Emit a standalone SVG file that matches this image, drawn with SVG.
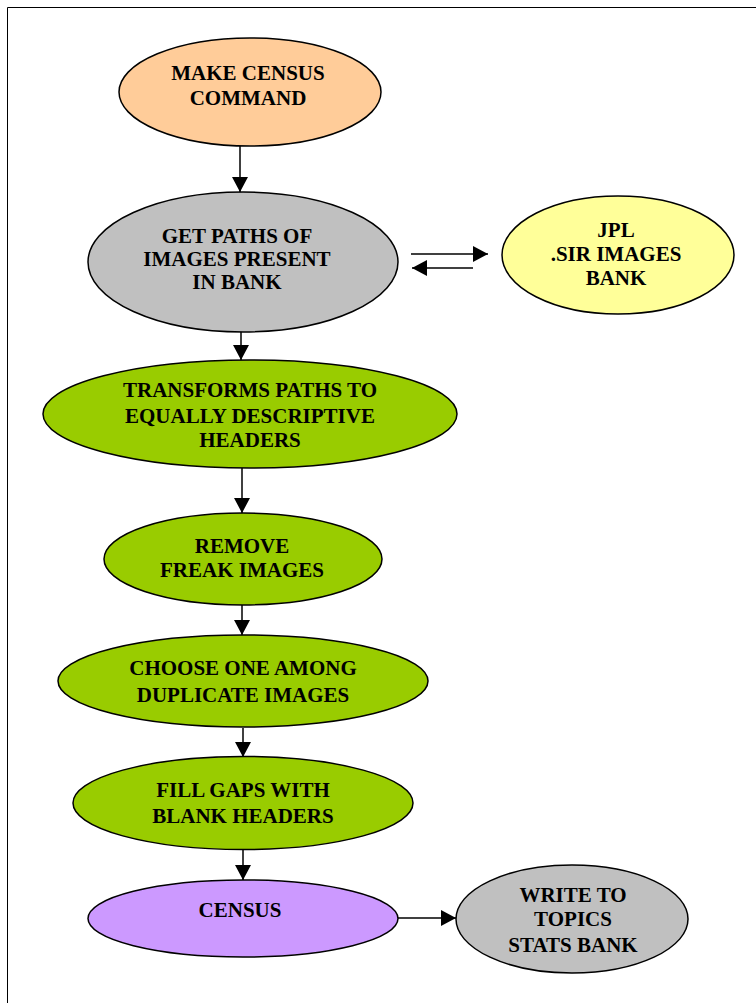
<svg xmlns="http://www.w3.org/2000/svg" width="756" height="1006" viewBox="0 0 756 1006">
<defs>
<marker id="ah" markerWidth="15" markerHeight="16" refX="15" refY="8" orient="auto" markerUnits="userSpaceOnUse">
<path d="M0,0 L15,8 L0,16 Z" fill="#000"/>
</marker>
<style>
.n{stroke:#000;stroke-width:1.5}
.t{font-family:"Liberation Serif","Times New Roman",serif;font-weight:bold;font-size:21px;fill:#000;text-anchor:middle}
.c{stroke:#000;stroke-width:1.5;fill:none;marker-end:url(#ah)}
</style>
</defs>
<rect width="756" height="1006" fill="#fff"/>
<path d="M7.5,1003 V7.5 H756" fill="none" stroke="#000" stroke-width="1"/>
<g id="connectors">
<line class="c" x1="240" y1="146" x2="240" y2="192"/>
<line class="c" x1="241" y1="332" x2="241" y2="360"/>
<line class="c" x1="242" y1="468" x2="242" y2="513"/>
<line class="c" x1="242" y1="605" x2="242" y2="635"/>
<line class="c" x1="243" y1="728" x2="243" y2="757"/>
<line class="c" x1="243" y1="850" x2="243" y2="880"/>
<line class="c" x1="397" y1="918" x2="456" y2="918"/>
<line class="c" x1="411" y1="254" x2="488" y2="254"/>
<line class="c" x1="473" y1="268" x2="412" y2="268"/>
</g>
<g id="make-census">
<ellipse class="n" cx="250" cy="92" rx="131" ry="54" fill="#FFCC99"/>
<text class="t" x="248" y="80">MAKE CENSUS</text>
<text class="t" x="248" y="105">COMMAND</text>
</g>
<g id="get-paths">
<ellipse class="n" cx="243" cy="262" rx="155" ry="70" fill="#C0C0C0"/>
<text class="t" x="237" y="243">GET PATHS OF</text>
<text class="t" x="237" y="266">IMAGES PRESENT</text>
<text class="t" x="237" y="289">IN BANK</text>
</g>
<g id="jpl-bank">
<ellipse class="n" cx="618" cy="255" rx="116" ry="59" fill="#FFFF99"/>
<text class="t" x="616" y="237">JPL</text>
<text class="t" x="616" y="261">.SIR IMAGES</text>
<text class="t" x="616" y="285">BANK</text>
</g>
<g id="transforms">
<ellipse class="n" cx="250" cy="414" rx="207" ry="54" fill="#99CC00"/>
<text class="t" x="250" y="397">TRANSFORMS PATHS TO</text>
<text class="t" x="250" y="423">EQUALLY DESCRIPTIVE</text>
<text class="t" x="250" y="447">HEADERS</text>
</g>
<g id="remove-freak">
<ellipse class="n" cx="243" cy="559" rx="139" ry="46" fill="#99CC00"/>
<text class="t" x="242" y="553">REMOVE</text>
<text class="t" x="242" y="577">FREAK IMAGES</text>
</g>
<g id="choose-one">
<ellipse class="n" cx="243" cy="681" rx="185" ry="46" fill="#99CC00"/>
<text class="t" x="243" y="675">CHOOSE ONE AMONG</text>
<text class="t" x="243" y="702">DUPLICATE IMAGES</text>
</g>
<g id="fill-gaps">
<ellipse class="n" cx="243" cy="803" rx="170" ry="46.5" fill="#99CC00"/>
<text class="t" x="243" y="797">FILL GAPS WITH</text>
<text class="t" x="243" y="823">BLANK HEADERS</text>
</g>
<g id="census">
<ellipse class="n" cx="243" cy="918.5" rx="155" ry="38.5" fill="#CC99FF"/>
<text class="t" x="240" y="917">CENSUS</text>
</g>
<g id="write-topics">
<ellipse class="n" cx="572" cy="919" rx="116" ry="54" fill="#C0C0C0"/>
<text class="t" x="573" y="902">WRITE TO</text>
<text class="t" x="573" y="926">TOPICS</text>
<text class="t" x="573" y="952">STATS BANK</text>
</g>
</svg>
